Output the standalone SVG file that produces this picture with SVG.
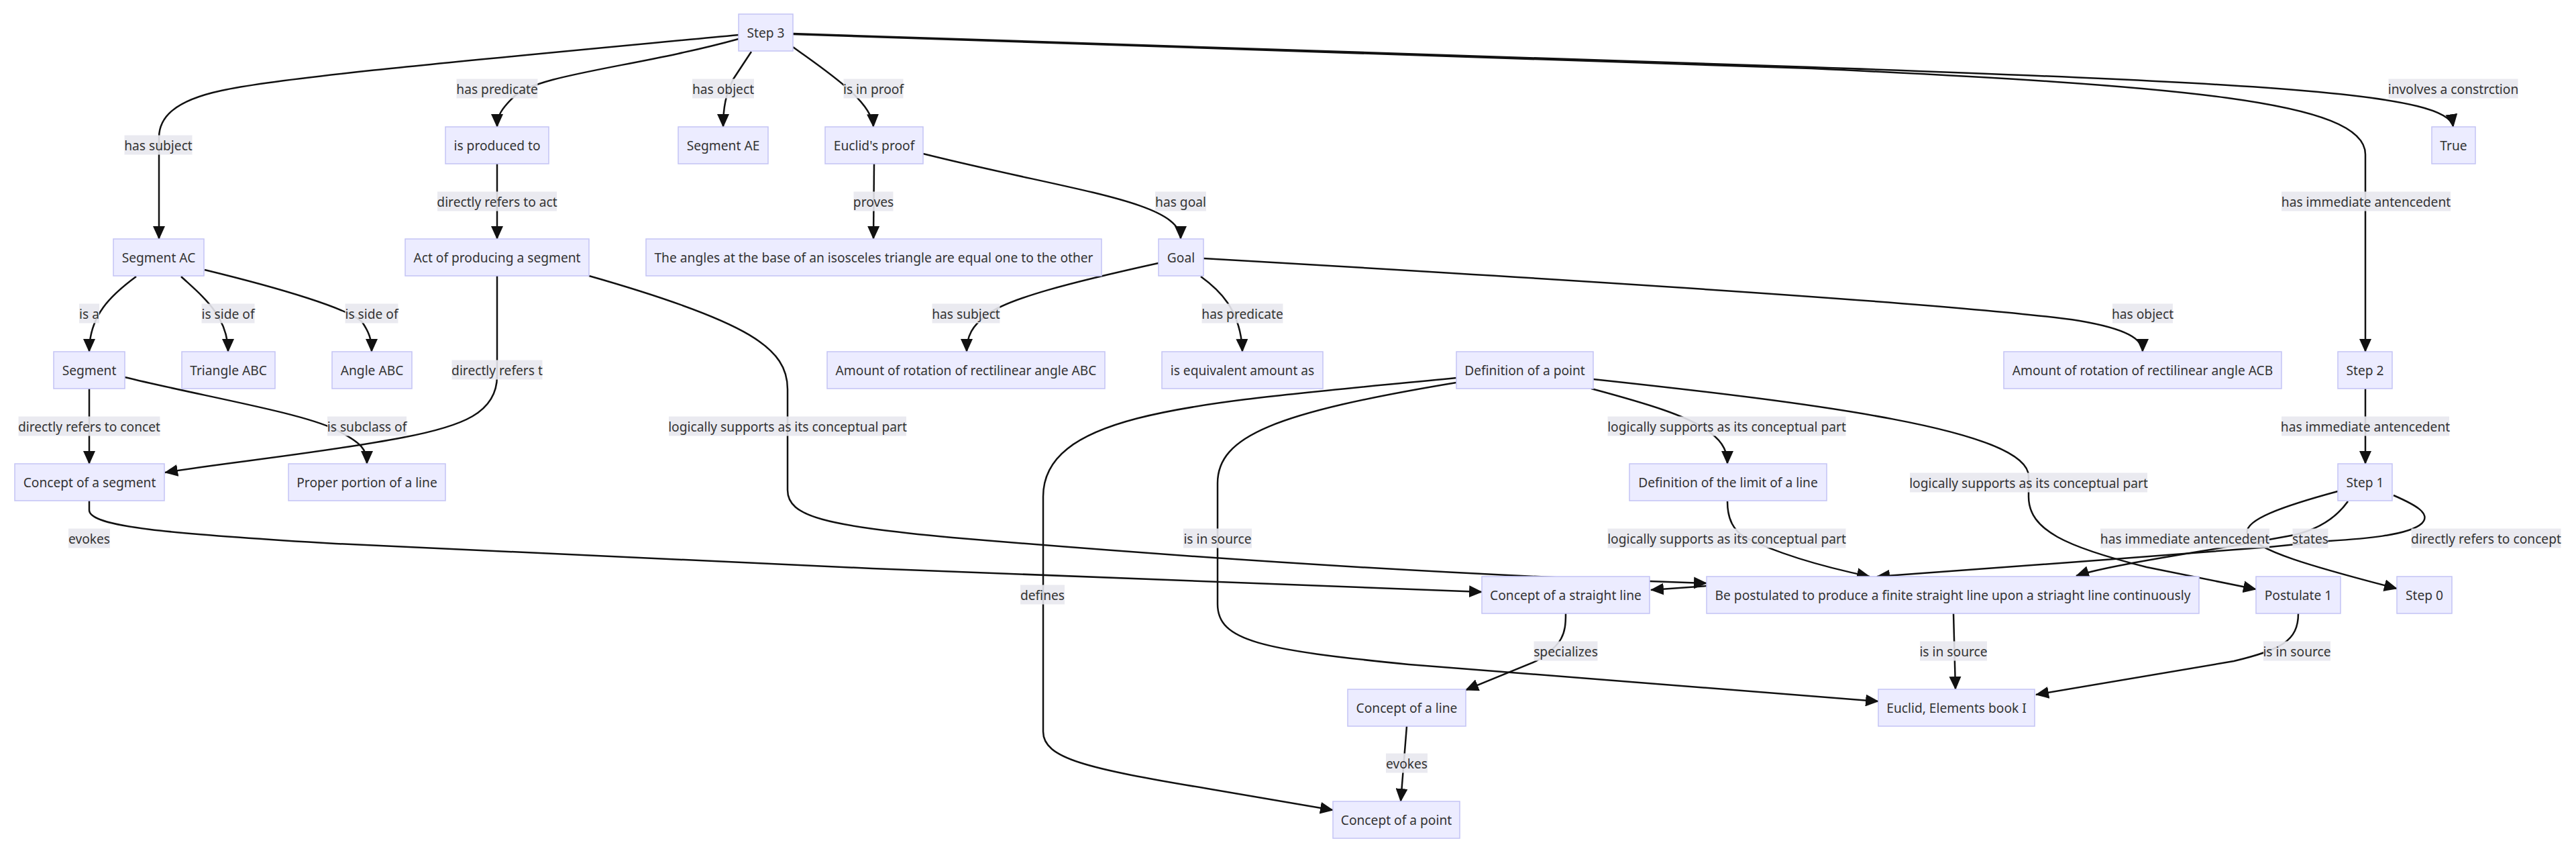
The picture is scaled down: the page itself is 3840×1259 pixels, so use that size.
<svg xmlns="http://www.w3.org/2000/svg" width="3840" height="1259" viewBox="0 0 3840 1259">
<defs>
<marker id="arrow" viewBox="0 0 20 18" refX="19" refY="9" markerWidth="20" markerHeight="18" markerUnits="userSpaceOnUse" orient="auto">
<path d="M0,0 L20,9 L0,18 z" fill="#111"/>
</marker>
</defs>
<style>
.node rect{fill:#ECECFF;stroke:#C3C3F5;stroke-width:1.5}
.node text,.lbl text{font-family:"Noto Sans","DejaVu Sans",sans-serif;font-size:19.2px;fill:#333;text-anchor:middle;dominant-baseline:central}
.edges path{fill:none;stroke:#111;stroke-width:2.5;marker-end:url(#arrow)}
.lbl rect{fill:#e8e8ee;fill-opacity:0.9}
</style>
<rect width="3840" height="1259" fill="#fff"/>
<g id="connectors" class="edges">
<path d="M1101,52 C700,90 420,115 330,135 C260,150 237,175 237,205 L237,356"/>
<path d="M1101,58 C950,100 800,110 765,145 C748,162 741,172 741,189"/>
<path d="M1120,77 L1093,118 C1082,140 1078,160 1078,189"/>
<path d="M1182,70 C1230,105 1300,150 1302,189"/>
<path d="M1182,50 L2700,100 C3400,125 3650,140 3657,189"/>
<path d="M1182,51 L2700,102 C3250,128 3526,150 3526,230 L3526,524"/>
<path d="M1303,244 L1302,356"/>
<path d="M1376,229 C1600,285 1760,300 1760,356"/>
<path d="M741,244 L741,356"/>
<path d="M203,412 C165,440 133,470 133,524"/>
<path d="M270,412 C300,440 340,470 340,524"/>
<path d="M305,402 C420,430 520,460 540,480 C550,495 554,505 554,524"/>
<path d="M133,579 L133,691"/>
<path d="M186,562 C300,590 450,615 500,640 C540,660 547,670 547,691"/>
<path d="M741,411 L741,560 C741,615 690,635 600,652 C480,675 330,690 246,704"/>
<path d="M878,411 C1120,480 1174,520 1174,580 L1174,730 C1174,770 1230,783 1420,801 C1800,833 2200,858 2544,869"/>
<path d="M133,746 L133,760 C133,785 250,795 500,810 L1300,847 C1700,862 2000,873 2209,882"/>
<path d="M2544,873 L2461,879"/>
<path d="M2171,563 C1800,600 1555,610 1555,740 L1555,1090 C1555,1130 1620,1145 1800,1175 L1987,1207"/>
<path d="M2171,570 C1900,615 1815,650 1815,720 L1815,900 C1815,955 1880,968 2100,990 L2800,1045"/>
<path d="M2372,579 C2450,600 2520,620 2550,645 C2570,660 2575,675 2575,691"/>
<path d="M2575,747 C2575,775 2585,790 2600,800 C2650,825 2720,845 2787,859"/>
<path d="M2375,565 C2700,600 3024,640 3024,710 L3024,740 C3024,790 3080,815 3200,845 L3363,878"/>
<path d="M1727,392 C1600,420 1500,445 1470,470 C1450,485 1441,500 1441,524"/>
<path d="M1790,412 C1815,430 1850,460 1852,524"/>
<path d="M1794,385 C2400,420 2950,455 3100,478 C3170,490 3194,505 3194,524"/>
<path d="M3526,579 L3526,691"/>
<path d="M3485,732 C3400,755 3345,775 3350,795 C3360,820 3450,845 3573,877"/>
<path d="M3500,747 C3480,775 3450,790 3420,797 C3300,820 3150,840 3095,858"/>
<path d="M3568,738 C3600,752 3625,765 3610,780 C3590,798 3520,803 3472,806 L3383,815 C3200,830 2950,848 2798,859"/>
<path d="M3426,914 C3426,955 3400,968 3330,985 L3035,1035"/>
<path d="M2912,914 L2915,1027"/>
<path d="M2334,914 C2334,945 2330,960 2290,985 L2185,1028"/>
<path d="M2097,1082 L2088,1194"/>
</g>
<g id="edge-labels" class="lbl">
<g><rect x="680.5" y="117.5" width="121" height="29"/><text x="741" y="132">has predicate</text></g>
<g><rect x="1032" y="117.5" width="92" height="29"/><text x="1078" y="132">has object</text></g>
<g><rect x="1257.5" y="117.5" width="89" height="29"/><text x="1302" y="132">is in proof</text></g>
<g><rect x="3560.5" y="117.5" width="193" height="29"/><text x="3657" y="132">involves a constrction</text></g>
<g><rect x="185.5" y="201.5" width="101" height="29"/><text x="236" y="216">has subject</text></g>
<g><rect x="652" y="285.5" width="178" height="29"/><text x="741" y="300">directly refers to act</text></g>
<g><rect x="1272.5" y="285.5" width="59" height="29"/><text x="1302" y="300">proves</text></g>
<g><rect x="1722" y="285.5" width="76" height="29"/><text x="1760" y="300">has goal</text></g>
<g><rect x="3401" y="285.5" width="252" height="29"/><text x="3527" y="300">has immediate antencedent</text></g>
<g><rect x="118" y="452.5" width="30" height="29"/><text x="133" y="467">is a</text></g>
<g><rect x="300.5" y="452.5" width="79" height="29"/><text x="340" y="467">is side of</text></g>
<g><rect x="514.5" y="452.5" width="79" height="29"/><text x="554" y="467">is side of</text></g>
<g><rect x="1389.5" y="452.5" width="101" height="29"/><text x="1440" y="467">has subject</text></g>
<g><rect x="1791.5" y="452.5" width="121" height="29"/><text x="1852" y="467">has predicate</text></g>
<g><rect x="3149" y="452.5" width="90" height="29"/><text x="3194" y="467">has object</text></g>
<g><rect x="673.5" y="536.5" width="135" height="29"/><text x="741" y="551">directly refers t</text></g>
<g><rect x="27.5" y="620.5" width="211" height="29"/><text x="133" y="635">directly refers to concet</text></g>
<g><rect x="488" y="620.5" width="118" height="29"/><text x="547" y="635">is subclass of</text></g>
<g><rect x="997" y="620.5" width="354" height="29"/><text x="1174" y="635">logically supports as its conceptual part</text></g>
<g><rect x="2396.5" y="620.5" width="355" height="29"/><text x="2574" y="635">logically supports as its conceptual part</text></g>
<g><rect x="3401" y="620.5" width="250" height="29"/><text x="3526" y="635">has immediate antencedent</text></g>
<g><rect x="2847" y="704.5" width="354" height="29"/><text x="3024" y="719">logically supports as its conceptual part</text></g>
<g><rect x="102" y="787.5" width="62" height="29"/><text x="133" y="802">evokes</text></g>
<g><rect x="1764" y="787.5" width="102" height="29"/><text x="1815" y="802">is in source</text></g>
<g><rect x="2396.5" y="787.5" width="355" height="29"/><text x="2574" y="802">logically supports as its conceptual part</text></g>
<g><rect x="3131" y="787.5" width="252" height="29"/><text x="3257" y="802">has immediate antencedent</text></g>
<g><rect x="3417.5" y="787.5" width="53" height="29"/><text x="3444" y="802">states</text></g>
<g><rect x="3594.5" y="787.5" width="223" height="29"/><text x="3706" y="802">directly refers to concept</text></g>
<g><rect x="1521" y="871.5" width="66" height="29"/><text x="1554" y="886">defines</text></g>
<g><rect x="2286.5" y="955.5" width="95" height="29"/><text x="2334" y="970">specializes</text></g>
<g><rect x="2862" y="955.5" width="100" height="29"/><text x="2912" y="970">is in source</text></g>
<g><rect x="3374" y="955.5" width="100" height="29"/><text x="3424" y="970">is in source</text></g>
<g><rect x="2066" y="1122.5" width="62" height="29"/><text x="2097" y="1137">evokes</text></g>
</g>
<g id="step3" class="node"><rect x="1101" y="21" width="81" height="55"/><text x="1141.5" y="48.5">Step 3</text></g>
<g id="isProducedTo" class="node"><rect x="664" y="189" width="154" height="55"/><text x="741" y="216.5">is produced to</text></g>
<g id="segmentAE" class="node"><rect x="1011" y="189" width="134" height="55"/><text x="1078" y="216.5">Segment AE</text></g>
<g id="euclidsProof" class="node"><rect x="1230" y="189" width="146" height="55"/><text x="1303" y="216.5">Euclid's proof</text></g>
<g id="true" class="node"><rect x="3625" y="189" width="65" height="55"/><text x="3657.5" y="216.5">True</text></g>
<g id="segmentAC" class="node"><rect x="169" y="356" width="135" height="55"/><text x="236.5" y="383.5">Segment AC</text></g>
<g id="actProducing" class="node"><rect x="604" y="356" width="274" height="55"/><text x="741" y="383.5">Act of producing a segment</text></g>
<g id="angles" class="node"><rect x="963" y="356" width="679" height="55"/><text x="1302.5" y="383.5">The angles at the base of an isosceles triangle are equal one to the other</text></g>
<g id="goal" class="node"><rect x="1727" y="356" width="67" height="55"/><text x="1760.5" y="383.5">Goal</text></g>
<g id="segment" class="node"><rect x="80" y="524" width="106" height="55"/><text x="133" y="551.5">Segment</text></g>
<g id="triangleABC" class="node"><rect x="271" y="524" width="139" height="55"/><text x="340.5" y="551.5">Triangle ABC</text></g>
<g id="angleABC" class="node"><rect x="495" y="524" width="119" height="55"/><text x="554.5" y="551.5">Angle ABC</text></g>
<g id="amountABC" class="node"><rect x="1233" y="524" width="414" height="55"/><text x="1440" y="551.5">Amount of rotation of rectilinear angle ABC</text></g>
<g id="equivalent" class="node"><rect x="1732" y="524" width="240" height="55"/><text x="1852" y="551.5">is equivalent amount as</text></g>
<g id="defPoint" class="node"><rect x="2171" y="524" width="204" height="55"/><text x="2273" y="551.5">Definition of a point</text></g>
<g id="amountACB" class="node"><rect x="2987" y="524" width="414" height="55"/><text x="3194" y="551.5">Amount of rotation of rectilinear angle ACB</text></g>
<g id="step2" class="node"><rect x="3485" y="524" width="81" height="55"/><text x="3525.5" y="551.5">Step 2</text></g>
<g id="conceptSegment" class="node"><rect x="22" y="691" width="223" height="55"/><text x="133.5" y="718.5">Concept of a segment</text></g>
<g id="properPortion" class="node"><rect x="430" y="691" width="234" height="55"/><text x="547" y="718.5">Proper portion of a line</text></g>
<g id="defLimit" class="node"><rect x="2429" y="691" width="294" height="55"/><text x="2576" y="718.5">Definition of the limit of a line</text></g>
<g id="step1" class="node"><rect x="3485" y="691" width="81" height="55"/><text x="3525.5" y="718.5">Step 1</text></g>
<g id="conceptStraightLine" class="node"><rect x="2209" y="859" width="250" height="55"/><text x="2334" y="886.5">Concept of a straight line</text></g>
<g id="bePostulated" class="node"><rect x="2544" y="859" width="734" height="55"/><text x="2911" y="886.5">Be postulated to produce a finite straight line upon a striaght line continuously</text></g>
<g id="postulate1" class="node"><rect x="3363" y="859" width="126" height="55"/><text x="3426" y="886.5">Postulate 1</text></g>
<g id="step0" class="node"><rect x="3573" y="859" width="82" height="55"/><text x="3614" y="886.5">Step 0</text></g>
<g id="conceptLine" class="node"><rect x="2009" y="1027" width="176" height="55"/><text x="2097" y="1054.5">Concept of a line</text></g>
<g id="elements" class="node"><rect x="2800" y="1027" width="233" height="55"/><text x="2916.5" y="1054.5">Euclid, Elements book I</text></g>
<g id="conceptPoint" class="node"><rect x="1987" y="1194" width="189" height="55"/><text x="2081.5" y="1221.5">Concept of a point</text></g>
</svg>
